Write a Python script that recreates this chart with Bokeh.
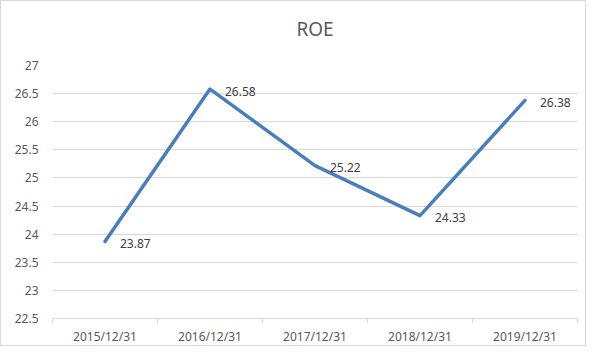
from bokeh.plotting import figure
from bokeh.models import ColumnDataSource, FixedTicker, Range1d, LabelSet, Title
from bokeh.core.properties import value
from bokeh.embed import file_html
from bokeh.resources import INLINE

title = "ROE"
categories = ["2015/12/31", "2016/12/31", "2017/12/31", "2018/12/31", "2019/12/31"]
roe = [23.87, 26.58, 25.22, 24.33, 26.38]
y_ticks = [22.5, 23, 23.5, 24, 24.5, 25, 25.5, 26, 26.5, 27]

xs = [i + 0.5 for i in range(len(categories))]
src = ColumnDataSource(dict(x=xs, y=roe, lbl=[f"{v:.2f}" for v in roe]))

p = figure(width=586, height=346, output_backend="svg", toolbar_location=None,
           x_range=Range1d(0, len(categories)), y_range=Range1d(y_ticks[0], y_ticks[-1]),
           min_border_left=51, min_border_right=10, min_border_top=64, min_border_bottom=20)
p.title.text = title
p.title.align = "center"
p.title.text_font = "Noto Sans"
p.title.text_font_size = "19px"
p.title.text_font_style = "normal"
p.title.text_color = "#595959"
# blank spacer between title and plot area
p.add_layout(Title(text=" ", text_font_size="15px", standoff=0), "above")
p.outline_line_color = None
p.background_fill_color = "white"
p.border_fill_color = "white"
p.styles = {"border": "1px solid #d9d9d9"}

p.line("x", "y", source=src, line_color="#4a7ebb", line_width=3.5, line_cap="round", line_join="round")
p.add_layout(LabelSet(x="x", y="y", text="lbl", source=src, x_offset=15, y_offset=-2,
                      text_baseline="middle", text_font=value("Noto Sans"),
                      text_font_size=value("12px"), text_color="#404040"))

# x axis
p.xaxis.ticker = FixedTicker(ticks=xs, minor_ticks=list(range(len(categories) + 1)))
p.xaxis.major_label_overrides = {x: c for x, c in zip(xs, categories)}
p.xaxis.major_tick_line_color = None
p.xaxis.major_tick_out = 0
p.xaxis.major_tick_in = 0
p.xaxis.minor_tick_line_color = "#d9d9d9"
p.xaxis.minor_tick_in = 0
p.xaxis.minor_tick_out = 5
p.xaxis.axis_line_color = "#d9d9d9"
p.xaxis.major_label_text_font = "Noto Sans"
p.xaxis.major_label_text_font_size = "12px"
p.xaxis.major_label_text_color = "#595959"
p.xaxis.major_label_standoff = 4
p.xgrid.grid_line_color = None

# y axis
p.yaxis.ticker = FixedTicker(ticks=y_ticks)
p.yaxis.major_label_overrides = {t: (str(int(t)) if t == int(t) else str(t)) for t in y_ticks}
p.yaxis.axis_line_color = None
p.yaxis.major_tick_line_color = None
p.yaxis.major_tick_out = 0
p.yaxis.major_tick_in = 0
p.yaxis.minor_tick_line_color = None
p.yaxis.minor_tick_out = 0
p.yaxis.major_label_text_font = "Noto Sans"
p.yaxis.major_label_text_font_size = "12px"
p.yaxis.major_label_text_color = "#595959"
p.yaxis.major_label_standoff = 14
p.ygrid.grid_line_color = "#d9d9d9"

open("out.html", "w").write(file_html(p, INLINE))
